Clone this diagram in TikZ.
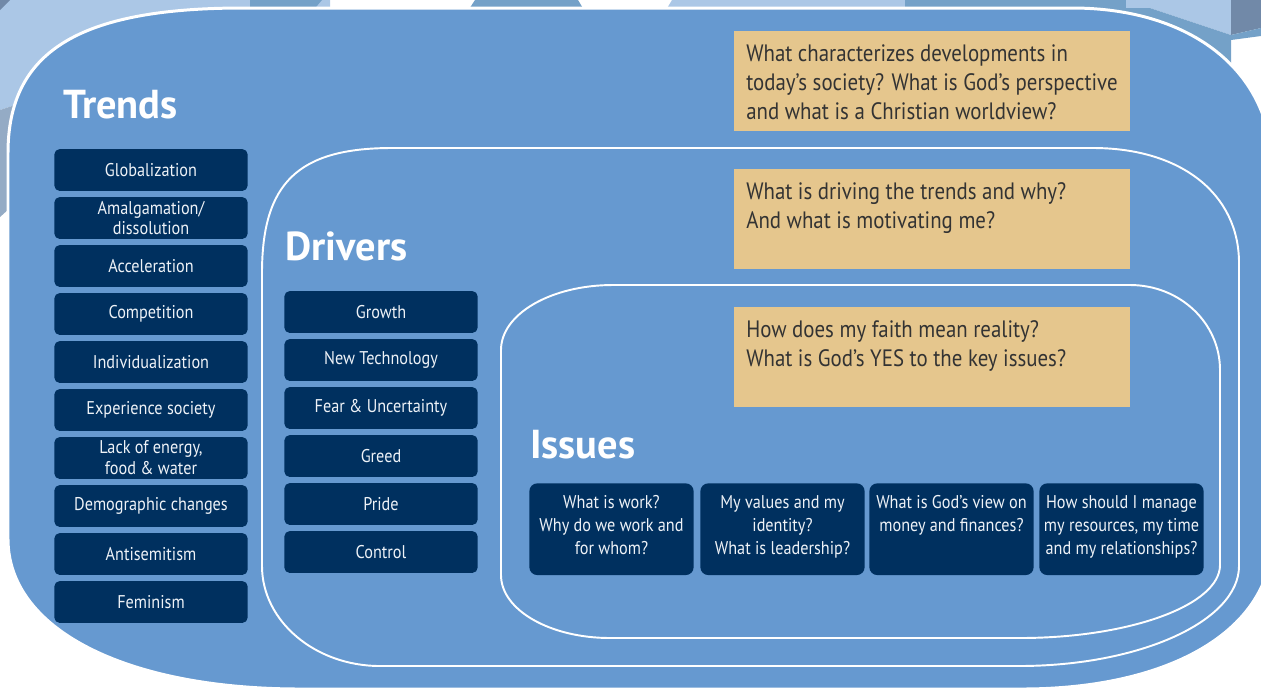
\documentclass[tikz,border=0pt]{standalone}
\usepackage{fontspec}
\setmainfont{PT Sans}[FakeStretch=0.88]
\newfontfamily\headfont{PT Sans}

\definecolor{shapeblue}{HTML}{6699D0}
\definecolor{navy}{HTML}{00305F}
\definecolor{beige}{HTML}{E5C68D}
\definecolor{qtext}{HTML}{333333}
\definecolor{boxtext}{HTML}{EEF2F7}
\definecolor{paleblue}{HTML}{ABC7E6}
\definecolor{midblue}{HTML}{74A1C8}
\definecolor{greyblue}{HTML}{7189A8}
\definecolor{slateblue}{HTML}{94ABC5}

\tikzset{
  trend/.style={fill=navy, rounded corners=3pt, minimum width=110pt, minimum height=23.8pt,
    inner sep=0pt, text=boxtext, align=center, font=\fontsize{10.5}{11.9}\selectfont},
  issue/.style={fill=navy, rounded corners=4.5pt, anchor=north, inner sep=0pt, text=boxtext,
    font=\fontsize{10.5}{13}\selectfont},
  question/.style={fill=beige, anchor=north west, inner sep=0pt, text=qtext,
    font=\fontsize{13.5}{16.4}\selectfont},
  heading/.style={anchor=base west, inner sep=0pt, text=white, font=\headfont\fontsize{23}{26}\selectfont\bfseries},
  ring/.style={draw=white, line width=1.1pt}
}
\newcommand{\issuetext}[1]{\parbox[c][52.2pt][t]{93.5pt}{\centering\vspace{7pt}#1}}
\newcommand{\questiontext}[1]{\parbox[c][56.7pt][t]{225pt}{\raggedright\leftskip=6.8pt\vspace{7.8pt}#1}}

\begin{document}
\begin{tikzpicture}[x=0.02cm, y=-0.02cm]
  \useasboundingbox (0,0) rectangle (1261,691);
  \clip (0,0) rectangle (1261,691);

  % Background pieces along the top edge
  \fill[paleblue] (0,0) -- (330,0) -- (330,20) -- (30,100) -- (0,110) -- cycle;
  \fill[slateblue] (0,110) -- (30,100) -- (30,190) -- (0,217) -- cycle;
  \fill[greyblue] (0,0) -- (10,0) -- (0,10) -- cycle;
  \fill[midblue] (250,0) -- (322,0) -- (305,20) -- (250,20) -- cycle;
  \fill[midblue] (475,0) -- (578,0) -- (590,20) -- (462,20) -- cycle;
  \fill[paleblue] (672,0) -- (905,0) -- (905,20) -- (660,20) -- cycle;
  \fill[midblue] (905,0) -- (1126,0) -- (1126,20) -- (905,20) -- cycle;
  \fill[paleblue] (1126,0) -- (1231,0) -- (1231,35) -- (1150,8) -- (1126,8) -- cycle;
  \fill[midblue] (1126,8) -- (1150,8) -- (1231,35) -- (1231,63) -- (1126,63) -- cycle;
  \fill[greyblue] (1231,0) -- (1261,0) -- (1261,28) -- (1231,35) -- cycle;
  \fill[midblue] (1231,35) -- (1261,28) -- (1261,36) -- (1231,40) -- cycle;

  % Trends: outer shape
  \draw[fill=shapeblue, draw=white, line width=1.7pt]
    (8,153) .. controls (8,52) and (78,8) .. (243,8)
    -- (1072,8) .. controls (1192,8) and (1272,72) .. (1272,168)
    -- (1272,539) .. controls (1272,629) and (1172,689) .. (1022,689)
    -- (300,689) .. controls (125,689) and (8,629) .. (8,539) -- cycle;

  % Drivers: middle shape
  \draw[ring]
    (262,273) .. controls (262,183) and (298,148) .. (392,148)
    -- (1093,148) .. controls (1181,148) and (1239,194) .. (1239,263)
    -- (1239,566) .. controls (1239,621) and (1140,666) .. (1019,666)
    -- (380,666) .. controls (315,666) and (262,621) .. (262,566) -- cycle;

  % Issues: inner shape
  \draw[ring]
    (501,350) .. controls (501,314) and (551,285) .. (613,285)
    -- (1130,285) .. controls (1180,285) and (1220,323) .. (1220,370)
    -- (1220,565) .. controls (1220,605) and (1130,638) .. (1020,638)
    -- (610,638) .. controls (550,638) and (501,610) .. (501,575) -- cycle;

  % Headings
  \node[heading] (trends) at (63,118) {Trends};
  \node[heading] (drivers) at (285,260) {Drivers};
  \node[heading] (issues) at (530,458) {Issues};

  % Questions
  \node[question] (q1) at (734,31) {\questiontext{What characterizes developments in\\
    today's society? What is God's perspective\\ and what is a Christian worldview?}};
  \node[question] (q2) at (734,169) {\questiontext{What is driving the trends and why?\\
    And what is motivating me?}};
  \node[question] (q3) at (734,307) {\questiontext{How does my faith mean reality?\\
    What is God's YES to the key issues?}};

  % Trends boxes
  \node[trend] (globalization) at (151,170) {Globalization};
  \node[trend] (amalgamation) at (151,218) {Amalgamation/\\dissolution};
  \node[trend] (acceleration) at (151,266) {Acceleration};
  \node[trend] (competition) at (151,314) {Competition};
  \node[trend] (individualization) at (151,362) {Individualization};
  \node[trend] (experience) at (151,410) {Experience society};
  \node[trend] (lack) at (151,458) {Lack of energy,\\food \& water};
  \node[trend] (demographic) at (151,506) {Demographic changes};
  \node[trend] (antisemitism) at (151,554) {Antisemitism};
  \node[trend] (feminism) at (151,602) {Feminism};

  % Drivers boxes
  \node[trend] (growth) at (381,312) {Growth};
  \node[trend] (technology) at (381,360) {New Technology};
  \node[trend] (fear) at (381,408) {Fear \& Uncertainty};
  \node[trend] (greed) at (381,456) {Greed};
  \node[trend] (pride) at (381,504) {Pride};
  \node[trend] (control) at (381,552) {Control};

  % Issues boxes
  \node[issue] (work) at (611.5,483) {\issuetext{What is work?\\ Why do we work and\\ for whom?}};
  \node[issue] (values) at (782.5,483) {\issuetext{My values and my\\ identity?\\ What is leadership?}};
  \node[issue] (money) at (951.5,483) {\issuetext{What is God's view on\\ money and finances?}};
  \node[issue] (resources) at (1121.5,483) {\issuetext{How should I manage\\ my resources, my time\\ and my relationships?}};
\end{tikzpicture}
\end{document}
